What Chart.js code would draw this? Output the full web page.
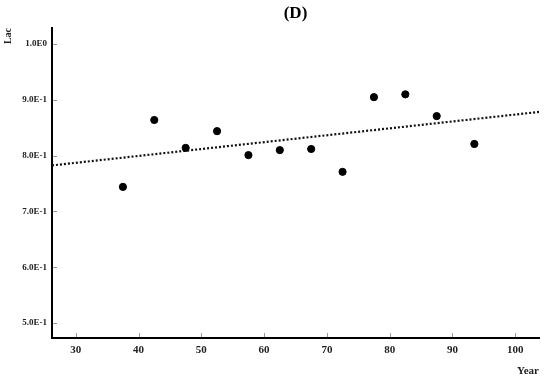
<!DOCTYPE html>
<html>
<head>
<meta charset="utf-8">
<script src="https://cdn.jsdelivr.net/npm/chart.js@4/dist/chart.umd.min.js"></script>
<style>
  html, body { margin: 0; padding: 0; background: #fff; }
  #wrap { width: 550px; height: 378px; }
</style>
</head>
<body>
<div id="wrap"><canvas id="grafico"></canvas></div>
<script>
// dados
const anos = [37.5, 42.5, 47.5, 52.5, 57.5, 62.5, 67.5, 72.5, 77.5, 82.5, 87.5, 93.5];
const lac = [0.744, 0.864, 0.814, 0.844, 0.801, 0.810, 0.812, 0.771, 0.905, 0.910, 0.871, 0.821];
const ticksX = [30, 40, 50, 60, 70, 80, 90, 100];
const ticksY = [0.5, 0.6, 0.7, 0.8, 0.9, 1.0];
const limitesX = [26.2, 103.8];
const limitesY = [0.473, 1.029];

// reta de regressão (mínimos quadrados) a partir dos pontos
function regressao(xs, ys) {
    const n = xs.length;
    const mx = xs.reduce((a, b) => a + b, 0) / n;
    const my = ys.reduce((a, b) => a + b, 0) / n;
    let sxy = 0, sxx = 0;
    for (let i = 0; i < n; i++) {
        sxy += (xs[i] - mx) * (ys[i] - my);
        sxx += (xs[i] - mx) * (xs[i] - mx);
    }
    const b = sxy / sxx;
    return x => my + b * (x - mx);
}
const f = regressao(anos, lac);
const tendencia = limitesX.map(x => ({ x: x, y: f(x) }));

const fonteSerif = '"Liberation Serif", "Times New Roman", serif';

// marcas de escala para dentro do gráfico
const marcasInternas = {
    id: 'marcasInternas',
    afterDraw(chart) {
        const ctx = chart.ctx;
        const sx = chart.scales.x, sy = chart.scales.y;
        const area = chart.chartArea;
        ctx.save();
        ctx.strokeStyle = '#9a9a9a';
        ctx.lineWidth = 1;
        ticksX.forEach(v => {
            const px = Math.round(sx.getPixelForValue(v)) + 0.5;
            ctx.beginPath();
            ctx.moveTo(px, area.bottom - 1);
            ctx.lineTo(px, area.bottom - 5);
            ctx.stroke();
        });
        ticksY.forEach(v => {
            const py = Math.round(sy.getPixelForValue(v)) + 0.5;
            ctx.beginPath();
            ctx.moveTo(area.left + 1, py);
            ctx.lineTo(area.left + 5, py);
            ctx.stroke();
        });
        ctx.restore();
    }
};

new Chart(document.getElementById('grafico'), {
    type: 'scatter',
    data: {
        datasets: [
            {
                label: 'Lac',
                data: anos.map((x, i) => ({ x: x, y: lac[i] })),
                backgroundColor: '#000',
                borderColor: '#000',
                pointRadius: 3.6,
                order: 1
            },
            {
                label: 'Tendência',
                type: 'line',
                data: tendencia,
                borderColor: '#111',
                borderWidth: 2.2,
                borderDash: [2, 2],
                pointRadius: 0,
                fill: false,
                order: 2
            }
        ]
    },
    plugins: [marcasInternas],
    options: {
        responsive: true,
        maintainAspectRatio: false,
        animation: false,
        layout: { padding: { left: 0, right: 11, top: 0, bottom: 0 } },
        plugins: {
            legend: { display: false },
            tooltip: { enabled: false },
            title: {
                display: true,
                text: '(D)',
                fullSize: false,
                color: '#000',
                font: { family: fonteSerif, size: 17, weight: 'bold', lineHeight: 1 },
                padding: { top: 5, bottom: 6 }
            }
        },
        scales: {
            x: {
                type: 'linear',
                min: limitesX[0],
                max: limitesX[1],
                afterBuildTicks: s => { s.ticks = ticksX.map(v => ({ value: v })); },
                afterFit: s => { s.height = 40; },
                grid: { display: false, drawTicks: false },
                border: { color: '#000', width: 2 },
                ticks: {
                    color: '#222',
                    padding: 6,
                    maxRotation: 0,
                    font: { family: fonteSerif, size: 11, weight: 'bold' }
                },
                title: {
                    display: true,
                    text: 'Year',
                    align: 'end',
                    color: '#222',
                    padding: { top: 3, bottom: 0 },
                    font: { family: fonteSerif, size: 11, weight: 'bold' }
                }
            },
            y: {
                type: 'linear',
                min: limitesY[0],
                max: limitesY[1],
                afterBuildTicks: s => { s.ticks = ticksY.map(v => ({ value: v })); },
                afterFit: s => { s.width = 52; },
                grid: { display: false, drawTicks: false },
                border: { color: '#000', width: 2 },
                ticks: {
                    color: '#222',
                    padding: 5,
                    font: { family: fonteSerif, size: 9, weight: 'bold' },
                    callback: v => v.toExponential(1).toUpperCase().replace('+', '')
                },
                title: {
                    display: true,
                    text: 'Lac',
                    align: 'end',
                    color: '#222',
                    padding: { top: 2, bottom: 0 },
                    font: { family: fonteSerif, size: 10, weight: 'bold' }
                }
            }
        }
    }
});
</script>
</body>
</html>
